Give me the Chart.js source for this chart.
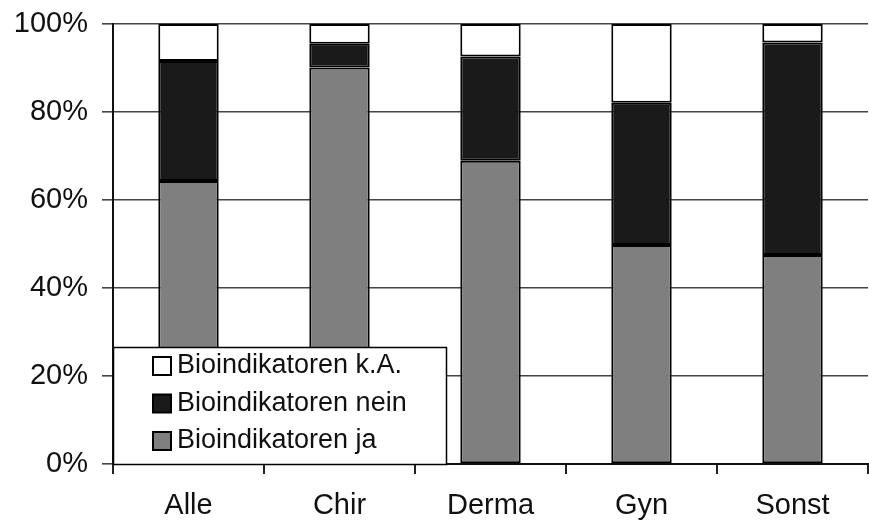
<!DOCTYPE html>
<html>
<head>
<meta charset="utf-8">
<script src="https://cdn.jsdelivr.net/npm/chart.js@4/dist/chart.umd.min.js"></script>
<style>
  html, body { margin: 0; padding: 0; background: #fff; }
  #wrap { width: 869px; height: 524px; position: relative; }
</style>
</head>
<body>
<div id="wrap"><canvas id="c" width="869" height="524"></canvas></div>
<script>
const categories = ["Alle", "Chir", "Derma", "Gyn", "Sonst"];
const jaValues = [64.3, 90.1, 68.9, 49.8, 47.5];
const neinValues = [27.3, 5.4, 23.7, 32.3, 48.3];
const kaValues = [8.4, 4.5, 7.4, 17.9, 4.2];
const seriesLabels = ["Bioindikatoren ja", "Bioindikatoren nein", "Bioindikatoren k.A."];
const yTickValues = [0, 20, 40, 60, 80, 100];

const FONT = "'Liberation Sans', Arial, sans-serif";

const boxLegend = {
  id: 'boxLegend',
  afterDraw(chart) {
    const ctx = chart.ctx;
    const area = chart.chartArea;
    const x0 = area.left, y1 = area.bottom + 1;
    const w = 334, h = 118;
    ctx.save();
    ctx.fillStyle = '#ffffff';
    ctx.fillRect(x0, y1 - h, w, h);
    ctx.strokeStyle = '#000000';
    ctx.lineWidth = 1.5;
    ctx.strokeRect(x0 + 0.5, y1 - h + 0.5, w - 1, h - 1);
    const ds = chart.data.datasets.slice().reverse();
    ctx.font = "27px " + FONT;
    ctx.textBaseline = 'middle';
    ctx.textAlign = 'left';
    ds.forEach((d, i) => {
      const cy = y1 - h + 19 + i * 37.5;
      ctx.fillStyle = d.backgroundColor;
      ctx.fillRect(x0 + 40, cy - 9, 18, 18);
      ctx.strokeStyle = '#000';
      ctx.lineWidth = 2;
      ctx.strokeRect(x0 + 40, cy - 9, 18, 18);
      ctx.fillStyle = '#111';
      ctx.fillText(d.label, x0 + 64, cy);
    });
    ctx.restore();
  }
};

new Chart(document.getElementById('c'), {
  type: 'bar',
  data: {
    labels: categories,
    datasets: [
      { label: seriesLabels[0], data: jaValues, backgroundColor: '#7f7f7f' },
      { label: seriesLabels[1], data: neinValues, backgroundColor: '#1a1a1a' },
      { label: seriesLabels[2], data: kaValues, backgroundColor: '#ffffff' }
    ].map(d => Object.assign(d, {
      borderColor: '#000000', borderWidth: 2, borderSkipped: false,
      barPercentage: 0.4, categoryPercentage: 1.0
    }))
  },
  options: {
    responsive: false,
    animation: false,
    devicePixelRatio: 1,
    layout: { padding: { left: 0, right: 1, top: 24, bottom: 0 } },
    plugins: { legend: { display: false }, tooltip: { enabled: false } },
    scales: {
      x: {
        stacked: true,
        grid: { display: true, drawOnChartArea: false, offset: true, tickLength: 10, color: '#222', lineWidth: 2 },
        border: { display: true, color: '#111', width: 2 },
        ticks: { color: '#111', font: { family: FONT, size: 29 }, padding: 15 },
        afterFit(s) { s.height = 60; s.paddingLeft = 0; s.paddingRight = 0; }
      },
      y: {
        stacked: true,
        min: 0, max: 100,
        afterBuildTicks(s) { s.ticks = yTickValues.map(v => ({ value: v })); },
        grid: { color: '#444', lineWidth: 1.6, tickLength: 11 },
        border: { display: true, color: '#111', width: 2 },
        ticks: { color: '#111', font: { family: FONT, size: 29 }, padding: 14, callback: v => v + '%' },
        afterFit(s) { s.width = 113; s.paddingTop = 0; s.paddingBottom = 0; }
      }
    }
  },
  plugins: [boxLegend]
});
</script>
</body>
</html>
